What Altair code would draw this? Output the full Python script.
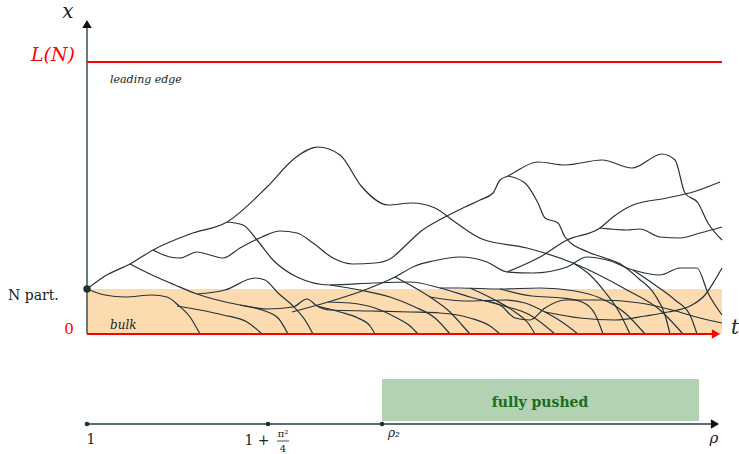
import altair as alt
import pandas as pd

# ---- coordinate frame -------------------------------------------------------
T_DOMAIN = [-87, 652]       # time axis range (t = 0 at the origin)
X_DOMAIN = [-120, 334]      # position axis range (x = 0 is the absorbing wall)
T_END = 635                 # right end of the time window
N_LEVEL = 45                # height of the bulk (N particles)
L_LEVEL = 272               # leading edge L(N)
RHO_LEVEL = -90             # level of the rho parameter line below

CURVE = "#263238"
AXIS = "#455a5a"
RED = "#ff0000"
SERIF = "'DejaVu Serif', 'Liberation Serif', serif"

# ---- branching trajectories, each a list of (t, x) --------------------------
path_peak = [(0, 45), (18, 58), (43, 70), (66, 84), (103, 100), (140, 112), (180, 147),
             (208, 176), (231, 187), (253, 179), (275, 147), (301, 129), (325, 131),
             (348, 126), (368, 112), (395, 95), (440, 86), (486, 71), (540, 44),
             (573, 24), (596, 0)]
path_wavy = [(66, 84), (83, 77), (93, 76), (110, 82), (123, 79), (136, 76), (153, 86),
             (175, 97), (193, 103), (210, 101), (226, 91), (246, 76), (266, 70), (288, 71),
             (303, 75), (318, 88), (333, 102), (356, 116), (378, 127), (393, 134),
             (406, 141), (413, 154), (421, 158), (451, 172), (478, 169), (515, 174),
             (545, 166), (575, 180), (588, 174), (598, 141), (611, 131), (621, 111),
             (635, 94)]
path_drop = [(421, 158), (438, 151), (451, 131), (458, 116), (471, 111), (478, 97),
             (501, 82), (518, 76), (535, 69), (551, 56), (568, 39), (578, 19), (583, 0)]
path_slide = [(140, 112), (156, 109), (170, 94), (186, 74), (210, 57), (243, 49),
              (286, 51), (323, 52), (353, 46), (383, 37), (413, 29), (443, 19), (468, 0)]
path_climb = [(205, 22), (241, 32), (275, 43), (308, 57), (328, 68), (346, 73), (373, 77),
              (400, 72), (420, 62), (446, 61), (480, 67), (500, 77), (520, 74), (546, 64),
              (573, 59), (593, 66), (610, 66), (621, 41), (635, 19)]
path_rise = [(420, 62), (453, 77), (480, 94), (513, 106), (526, 117), (546, 129),
             (580, 136), (606, 142), (633, 152)]
path_fork = [(513, 106), (540, 104), (553, 105), (573, 97), (593, 96), (613, 101), (635, 107)]

path_b1 = [(0, 45), (18, 39), (38, 37), (65, 39), (80, 37), (91, 29), (103, 17), (113, 0)]
path_b2 = [(90, 28), (113, 24), (136, 19), (160, 12), (175, 0)]
path_b3 = [(43, 70), (65, 59), (88, 49), (110, 40), (153, 29), (180, 25), (206, 27),
           (220, 35), (230, 28), (243, 24), (283, 23), (323, 22), (353, 21), (383, 16),
           (403, 8), (413, 0)]
path_b4 = [(153, 29), (175, 24), (191, 16), (201, 0)]
path_b5 = [(110, 40), (138, 44), (168, 56), (178, 54), (191, 41), (205, 29), (218, 14), (226, 0)]
path_b6 = [(230, 28), (253, 22), (271, 16), (283, 8), (288, 0)]
path_b7 = [(241, 32), (263, 31), (288, 26), (308, 17), (323, 8), (331, 0)]
path_b8 = [(243, 49), (273, 44), (303, 37), (328, 27), (348, 16), (363, 0)]
path_b9 = [(308, 57), (323, 49), (343, 37), (363, 22), (375, 9), (383, 0)]
path_b10 = [(353, 46), (373, 46), (413, 45), (453, 46), (488, 43), (513, 36), (538, 21), (558, 0)]
path_b11 = [(383, 46), (408, 34), (428, 22), (441, 11), (448, 0)]
path_b12 = [(343, 37), (378, 33), (418, 34), (438, 31), (458, 22), (475, 12), (491, 0)]
path_b13 = [(413, 45), (445, 38), (475, 36), (495, 32), (508, 20), (516, 0)]
path_b14 = [(486, 71), (503, 59), (518, 42), (531, 24), (543, 0)]
path_b15 = [(393, 34), (413, 29), (428, 16), (443, 14), (458, 26), (478, 34), (513, 34),
            (553, 31), (585, 24), (613, 16), (635, 11)]
path_b16 = [(458, 22), (493, 16), (528, 14), (558, 18), (581, 22), (605, 29), (618, 39),
            (628, 54), (635, 66)]
path_b17 = [(546, 64), (568, 49), (588, 34), (603, 19), (610, 0)]

paths = {
    "peak": path_peak, "wavy": path_wavy, "drop": path_drop, "slide": path_slide,
    "climb": path_climb, "rise": path_rise, "fork": path_fork,
    "b1": path_b1, "b2": path_b2, "b3": path_b3, "b4": path_b4, "b5": path_b5,
    "b6": path_b6, "b7": path_b7, "b8": path_b8, "b9": path_b9, "b10": path_b10,
    "b11": path_b11, "b12": path_b12, "b13": path_b13, "b14": path_b14,
    "b15": path_b15, "b16": path_b16, "b17": path_b17,
}

# ---- rho parameter line ------------------------------------------------------
rho_ticks_t = [0, 181, 295]
pushed_from, pushed_to = 295, 612
pushed_low, pushed_high = -87, -45

# ---- build frames ------------------------------------------------------------
rows = []
for name, pts in paths.items():
    for i, (t, x) in enumerate(pts):
        rows.append({"path": name, "k": i, "t": t, "x": x})
traj = pd.DataFrame(rows)

xs = alt.Scale(domain=T_DOMAIN, nice=False, zero=False)
ys = alt.Scale(domain=X_DOMAIN, nice=False, zero=False)


def X(field):
    return alt.X(field, type="quantitative", scale=xs, axis=None)


def Y(field):
    return alt.Y(field, type="quantitative", scale=ys, axis=None)


bulk = alt.Chart(pd.DataFrame({"t": [0], "t2": [T_END], "x": [0], "x2": [N_LEVEL]})).mark_rect(
    color="#fddbb0").encode(x=X("t"), x2="t2", y=Y("x"), y2="x2")

pushed = alt.Chart(pd.DataFrame({"t": [pushed_from], "t2": [pushed_to],
                                 "x": [pushed_low], "x2": [pushed_high]})).mark_rect(
    color="#b3d1b3").encode(x=X("t"), x2="t2", y=Y("x"), y2="x2")

lines = alt.Chart(traj).mark_line(interpolate="monotone", color=CURVE, strokeWidth=1.2).encode(
    x=X("t"), y=Y("x"), detail="path:N", order="k:Q")

seg = pd.DataFrame([
    {"id": "vaxis", "t": 0, "t2": 0, "x": 0, "x2": 310, "c": AXIS, "w": 1.6},
    {"id": "lead", "t": 0, "t2": T_END, "x": L_LEVEL, "x2": L_LEVEL, "c": RED, "w": 2},
    {"id": "taxis", "t": 0, "t2": 628, "x": 0, "x2": 0, "c": RED, "w": 2},
    {"id": "rho", "t": 0, "t2": 626, "x": RHO_LEVEL, "x2": RHO_LEVEL, "c": "#587070", "w": 2},
])
rules = alt.Chart(seg).mark_rule().encode(
    x=X("t"), x2="t2", y=Y("x"), y2="x2",
    color=alt.Color("c:N", scale=None), strokeWidth=alt.StrokeWidth("w:Q", scale=None))

heads = pd.DataFrame([
    {"t": 0, "x": 310, "shape": "triangle-up", "c": "#111111"},
    {"t": 629, "x": 0, "shape": "triangle-right", "c": RED},
    {"t": 628, "x": RHO_LEVEL, "shape": "triangle-right", "c": "#111111"},
])
arrows = alt.Chart(heads).mark_point(filled=True, size=90, opacity=1).encode(
    x=X("t"), y=Y("x"), shape=alt.Shape("shape:N", scale=None),
    color=alt.Color("c:N", scale=None))

dots = alt.Chart(pd.DataFrame({"t": [0] + rho_ticks_t, "x": [N_LEVEL] + [RHO_LEVEL] * 3,
                               "s": [55, 22, 22, 22]})).mark_circle(
    color="#1f3030", opacity=1).encode(x=X("t"), y=Y("x"), size=alt.Size("s:Q", scale=None))

labels = pd.DataFrame([
    {"t": -19, "x": 322, "txt": "x", "c": "#222222", "fs": 20, "st": "italic", "fw": "normal", "al": "center"},
    {"t": -12, "x": 279, "txt": "L(N)", "c": RED, "fs": 19, "st": "italic", "fw": "normal", "al": "right"},
    {"t": 23, "x": 254, "txt": "leading edge", "c": "#222222", "fs": 11, "st": "italic", "fw": "normal", "al": "left"},
    {"t": 23, "x": 9, "txt": "bulk", "c": "#222222", "fs": 12, "st": "italic", "fw": "normal", "al": "left"},
    {"t": -79, "x": 38, "txt": "N part.", "c": "#222222", "fs": 14, "st": "normal", "fw": "normal", "al": "left"},
    {"t": -18, "x": 5, "txt": "0", "c": RED, "fs": 15, "st": "normal", "fw": "normal", "al": "center"},
    {"t": 648, "x": 6, "txt": "t", "c": "#222222", "fs": 20, "st": "italic", "fw": "normal", "al": "center"},
    {"t": 4, "x": -106, "txt": "1", "c": "#222222", "fs": 14, "st": "normal", "fw": "normal", "al": "center"},
    {"t": 170, "x": -107, "txt": "1 +", "c": "#222222", "fs": 14, "st": "normal", "fw": "normal", "al": "center"},
    {"t": 196, "x": -100, "txt": "π²", "c": "#222222", "fs": 10, "st": "normal", "fw": "normal", "al": "center"},
    {"t": 196, "x": -115, "txt": "4", "c": "#222222", "fs": 10, "st": "normal", "fw": "normal", "al": "center"},
    {"t": 307, "x": -99, "txt": "ρ₂", "c": "#222222", "fs": 12, "st": "italic", "fw": "normal", "al": "center"},
    {"t": 627, "x": -104, "txt": "ρ", "c": "#222222", "fs": 15, "st": "italic", "fw": "normal", "al": "center"},
    {"t": 453, "x": -69, "txt": "fully pushed", "c": "#1a6e1a", "fs": 14, "st": "normal", "fw": "bold", "al": "center"},
])
texts = []
for _, r in labels.iterrows():
    texts.append(alt.Chart(pd.DataFrame([r])).mark_text(
        font=SERIF, fontSize=int(r["fs"]), fontStyle=r["st"], fontWeight=r["fw"],
        align=r["al"], baseline="middle", color=r["c"]).encode(
        x=X("t"), y=Y("x"), text="txt:N"))

frac = alt.Chart(pd.DataFrame({"t": [190], "t2": [202], "x": [-107]})).mark_rule(
    color="#222222", strokeWidth=0.8).encode(x=X("t"), x2="t2", y=Y("x"))

chart = alt.layer(bulk, pushed, lines, rules, arrows, dots, frac, *texts).properties(
    width=739, height=454, autosize=alt.AutoSizeParams(type="none"), padding=0
).configure_view(stroke=None)

chart.save("out.html", embed_options={"renderer": "svg", "actions": False})
